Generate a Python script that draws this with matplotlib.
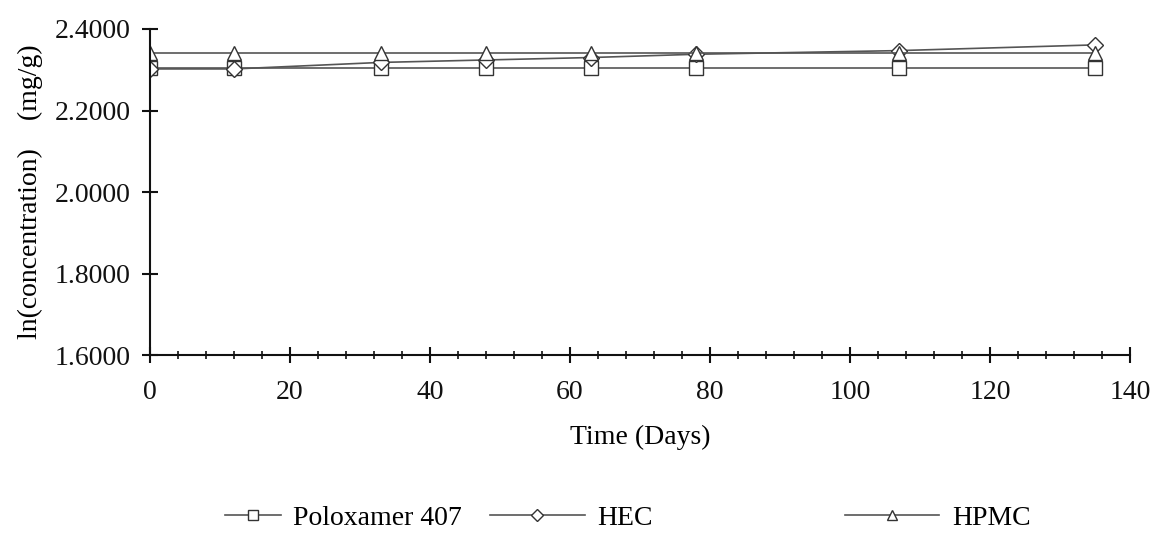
import matplotlib.pyplot as plt
from matplotlib.ticker import MultipleLocator, FormatStrFormatter

days = [0, 12, 33, 48, 63, 78, 107, 135]
poloxamer = [2.304, 2.304, 2.304, 2.304, 2.304, 2.304, 2.304, 2.304]
hec = [2.302, 2.302, 2.318, 2.324, 2.330, 2.338, 2.347, 2.361]
hpmc = [2.341, 2.341, 2.341, 2.341, 2.341, 2.341, 2.341, 2.341]
labels = ["Poloxamer 407", "HEC", "HPMC"]

plt.rcParams['font.family'] = ['Liberation Serif', 'DejaVu Serif']

fig = plt.figure(figsize=(11.56, 5.35), dpi=100)
ax = fig.add_axes([0.1298, 0.3364, 0.8477, 0.6094])

line_kw = dict(color='#555555', lw=1.2, markerfacecolor='white',
               markeredgecolor='#333333', markeredgewidth=1.0)
h1, = ax.plot(days, poloxamer, marker='s', markersize=9.5, **line_kw)
h2, = ax.plot(days, hec, marker='D', markersize=8.5, **line_kw)
h3, = ax.plot(days, hpmc, marker='^', markersize=10, **line_kw)

ax.set_xlim(0, 140)
ax.set_ylim(1.6, 2.4)
ax.xaxis.set_major_locator(MultipleLocator(20))
ax.xaxis.set_minor_locator(MultipleLocator(4))
ax.yaxis.set_major_locator(MultipleLocator(0.2))
ax.yaxis.set_major_formatter(FormatStrFormatter('%.4f'))

for s in ['top', 'right']:
    ax.spines[s].set_visible(False)
for s in ['left', 'bottom']:
    ax.spines[s].set_linewidth(1.5)
    ax.spines[s].set_color('#111111')

ax.tick_params(which='major', direction='inout', length=12, width=1.5,
               labelsize=20, pad=8, colors='#111111')
ax.tick_params(which='minor', direction='inout', length=6, width=1.2, colors='#111111')
ax.tick_params(axis='x', pad=12)

ax.set_xlabel('Time (Days)', fontsize=20, labelpad=14)
ax.set_ylabel('ln(concentration)    (mg/g)', fontsize=20, labelpad=8)

# one legend per entry, spaced like the original
handles = [h1, h2, h3]
xpos = [0.195, 0.424, 0.731]
hlen = [2.0, 3.4, 3.4]
for h, lab, xp, hl in zip(handles, labels, xpos, hlen):
    fig.legend(handles=[h], labels=[lab], loc='center left',
               bbox_to_anchor=(xp, 0.032), frameon=False, fontsize=20,
               handlelength=hl, handletextpad=0.45, borderpad=0,
               borderaxespad=0, markerscale=0.75)

fig.savefig('out.png', dpi=100)
